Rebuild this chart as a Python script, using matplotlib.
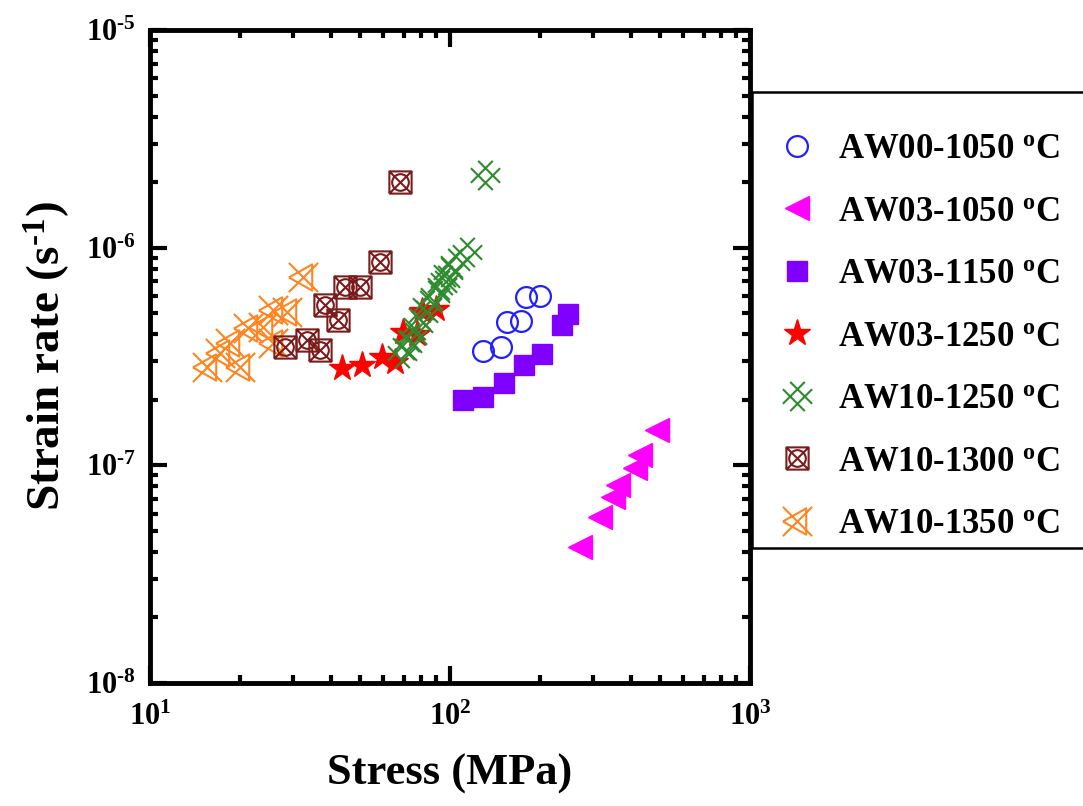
import matplotlib
matplotlib.use("Agg")
import matplotlib.pyplot as plt
from matplotlib.path import Path
from matplotlib.patches import Rectangle
from matplotlib.ticker import LogLocator, NullFormatter, FuncFormatter
import numpy as np

plt.rcParams['font.family'] = ['Liberation Serif', 'DejaVu Serif']
plt.rcParams['mathtext.fontset'] = 'custom'
plt.rcParams['mathtext.rm'] = 'Liberation Serif'
plt.rcParams['mathtext.bf'] = 'Liberation Serif:bold'
plt.rcParams['mathtext.it'] = 'Liberation Serif:italic'

# data (stress in MPa, strain rate in 1/s)
aw00_1050_x = [128.8, 147.9, 154.9, 172.6, 179.1, 199.5]
aw00_1050_y = [3.35e-7, 3.50e-7, 4.56e-7, 4.61e-7, 5.94e-7, 6.00e-7]

aw03_1050_x = [271, 316, 349, 363, 414, 430, 490]
aw03_1050_y = [4.22e-8, 5.79e-8, 7.16e-8, 8.13e-8, 9.73e-8, 1.12e-7, 1.45e-7]

aw03_1150_x = [110.5, 128.8, 151.4, 176.6, 202.7, 236.3, 247.3]
aw03_1150_y = [2.00e-7, 2.06e-7, 2.39e-7, 2.89e-7, 3.25e-7, 4.42e-7, 4.96e-7]

aw03_1250_x = [43.7, 50.9, 59.3, 65.6, 69.9, 77.6, 80.6, 90.0]
aw03_1250_y = [2.80e-7, 2.89e-7, 3.15e-7, 2.99e-7, 4.10e-7, 4.00e-7, 5.10e-7, 5.25e-7]

aw10_1250_x = [69.2, 71.9, 74.7, 78.2, 81.3, 83.8, 89.1, 94.0, 96.2, 98.5, 103.9, 114.0, 130.9]
aw10_1250_y = [3.28e-7, 3.57e-7, 3.89e-7, 4.42e-7, 4.91e-7, 5.46e-7, 6.07e-7,
               6.75e-7, 7.11e-7, 7.73e-7, 8.51e-7, 9.55e-7, 2.16e-6]

aw10_1300_x = [28.2, 33.3, 36.9, 38.3, 42.4, 44.7, 50.1, 58.4, 68.1]
aw10_1300_y = [3.50e-7, 3.77e-7, 3.39e-7, 5.46e-7, 4.66e-7, 6.60e-7, 6.60e-7, 8.59e-7, 2.00e-6]

aw10_1350_x = [15.5, 17.1, 18.5, 20.0, 21.2, 23.8, 25.7, 25.7, 28.6, 32.4]
aw10_1350_y = [2.83e-7, 3.28e-7, 3.65e-7, 2.83e-7, 4.28e-7, 4.32e-7, 5.18e-7, 3.65e-7, 5.07e-7, 7.33e-7]

labels = ['AW00-1050 $^{\\mathbf{o}}$C', 'AW03-1050 $^{\\mathbf{o}}$C', 'AW03-1150 $^{\\mathbf{o}}$C',
          'AW03-1250 $^{\\mathbf{o}}$C', 'AW10-1250 $^{\\mathbf{o}}$C', 'AW10-1300 $^{\\mathbf{o}}$C',
          'AW10-1350 $^{\\mathbf{o}}$C']

HY = '\u2010'  # hyphen used in the exponents

# custom open markers
M, L = Path.MOVETO, Path.LINETO
# diamond lattice (two crossed X's)
lattice = Path([(-0.5, -1), (1, 0.5), (-1, -0.5), (0.5, 1),
                (-0.5, 1), (1, -0.5), (-1, 0.5), (0.5, -1)],
               [M, L, M, L, M, L, M, L])
# square with diagonals and inner circle
sq = Path([(-1, -1), (1, -1), (1, 1), (-1, 1), (-1, -1),
           (-1, -1), (1, 1), (-1, 1), (1, -1)],
          [M, L, L, L, L, M, L, M, L])
boxcross = Path.make_compound_path(sq, Path.circle((0, 0), 0.75))
# X with left-pointing triangle
xtri = Path([(-1, -1), (1, 1), (-1, 1), (1, -1),
             (-1, 0), (0.6, 0.9), (0.6, -0.9), (-1, 0)],
            [M, L, M, L, M, L, L, L])

fig = plt.figure(figsize=(10.83, 8.06), dpi=100)
ax = fig.add_axes([150/1083, 1-683/806, 600/1083, 653/806])

ax.plot(aw00_1050_x, aw00_1050_y, ls='none', marker='o', ms=15, mfc='none',
        mec='#2020ff', mew=1.6, label=labels[0], zorder=3)
ax.plot(aw03_1050_x, aw03_1050_y, ls='none', marker='<', ms=17, color='#ff00ff',
        mec='#ff00ff', label=labels[1], zorder=3)
ax.plot(aw03_1150_x, aw03_1150_y, ls='none', marker='s', ms=15, color='#7f00ff',
        mec='#7f00ff', label=labels[2], zorder=3)
ax.plot(aw03_1250_x, aw03_1250_y, ls='none', marker='*', ms=20, color='#ff0000',
        mec='#ff0000', label=labels[3], zorder=3)
ax.plot(aw10_1250_x, aw10_1250_y, ls='none', marker=lattice, ms=21, mfc='none',
        mec='#2e8b2e', mew=1.5, label=labels[4], zorder=4)
ax.plot(aw10_1300_x, aw10_1300_y, ls='none', marker=boxcross, ms=16, mfc='none',
        mec='#7a1c1c', mew=1.5, label=labels[5], zorder=4)
ax.plot(aw10_1350_x, aw10_1350_y, ls='none', marker=xtri, ms=21, mfc='none',
        mec='#ff8520', mew=1.5, label=labels[6], zorder=2)

ax.set_xscale('log')
ax.set_yscale('log')
ax.set_xlim(10, 1000)
ax.set_ylim(1e-8, 1e-5)


def pow_label(v, pos):
    e = int(round(np.log10(v)))
    s = str(e).replace('-', HY)
    return '10$^{\\mathbf{' + s + '}}$'


ax.xaxis.set_major_formatter(FuncFormatter(pow_label))
ax.yaxis.set_major_formatter(FuncFormatter(pow_label))
ax.xaxis.set_minor_locator(LogLocator(base=10, subs=range(2, 10), numticks=20))
ax.yaxis.set_minor_locator(LogLocator(base=10, subs=range(2, 10), numticks=20))
ax.xaxis.set_minor_formatter(NullFormatter())
ax.yaxis.set_minor_formatter(NullFormatter())

for s in ax.spines.values():
    s.set_linewidth(3.5)
ax.tick_params(which='both', direction='in', top=True, right=True, width=3)
ax.tick_params(which='major', length=12, labelsize=22)
ax.tick_params(axis='x', which='major', pad=14)
ax.tick_params(axis='y', which='major', pad=10)
ax.tick_params(which='minor', length=6)
for t in ax.get_xticklabels() + ax.get_yticklabels():
    t.set_fontweight('bold')

ax.set_xlabel('Stress (MPa)', fontsize=32, fontweight='bold', labelpad=16)
ax.set_ylabel('Strain rate (s$^{\\mathbf{' + HY + '1}}$)', fontsize=34,
              fontweight='bold', labelpad=10)

# legend box (runs past the right edge as in the original)
fig.add_artist(Rectangle((752/1083, 1-548/806), 400/1083, 456/806,
                         transform=fig.transFigure, fill=False,
                         edgecolor='black', linewidth=1.8, clip_on=False))
leg = fig.legend(loc='upper left', bbox_to_anchor=(781/1083, 1-133/806),
                 frameon=False,
                 prop={'family': 'Liberation Serif', 'weight': 'bold', 'size': 25},
                 borderpad=0, labelspacing=0.85, handletextpad=0.75,
                 handlelength=0.9, borderaxespad=0)

fig.savefig('out.png', dpi=100)
